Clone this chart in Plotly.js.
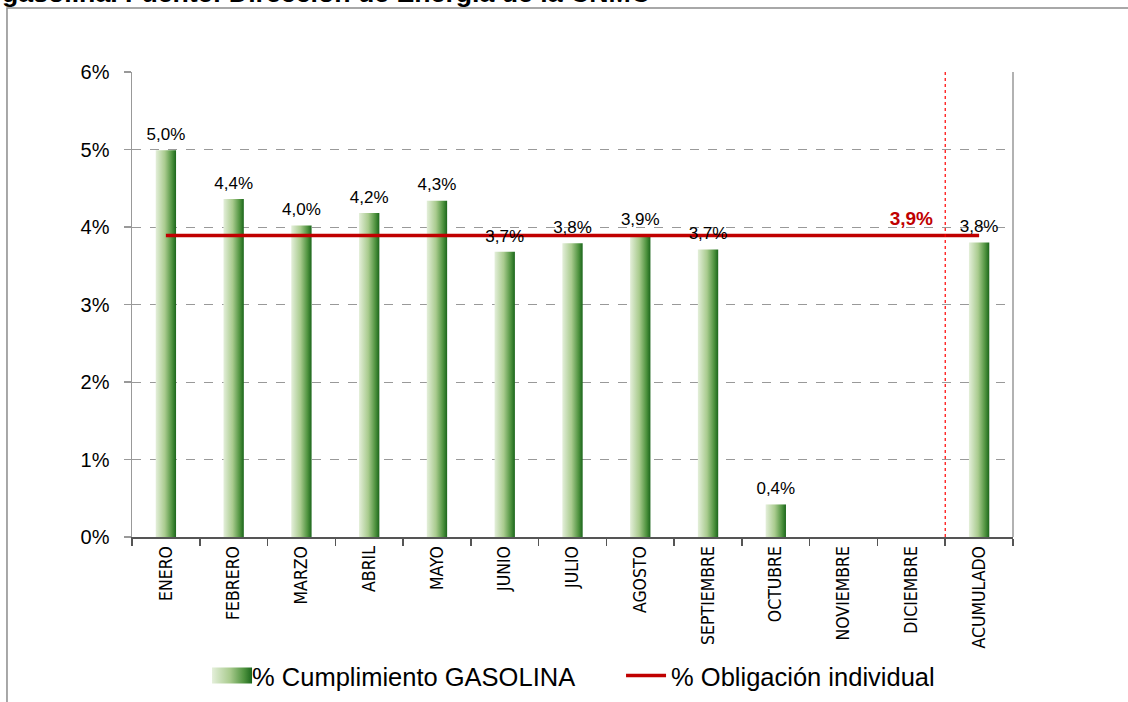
<!DOCTYPE html>
<html><head><meta charset="utf-8">
<script src="https://cdn.plot.ly/plotly-3.0.1.min.js"></script>
<style>html,body{margin:0;padding:0;background:#fff;}#chart{width:1128px;height:702px;}</style>
</head><body><div id="chart"></div>
<script>
const months = ['ENERO','FEBRERO','MARZO','ABRIL','MAYO','JUNIO','JULIO','AGOSTO','SEPTIEMBRE','OCTUBRE','NOVIEMBRE','DICIEMBRE','ACUMULADO'];
const cumplimiento = [4.99,4.36,4.02,4.18,4.34,3.68,3.79,3.90,3.71,0.42,null,null,3.80];
const obligacion = [3.89,3.89,3.89,3.89,3.89,3.89,3.89,3.89,3.89,3.89,3.89,3.89,3.89];
const yTickVals = [0,1,2,3,4,5,6];
const yTickText = ['0%','1%','2%','3%','4%','5%','6%'];
const seriesNames = ['% Cumplimiento GASOLINA','% Obligación individual'];
const titleText = 'gasolina. Fuente: Dirección de Energía de la CNMC';
const obligLabelIndex = 11;

const traces = [
  {type:'bar', x:months, y:cumplimiento, name:seriesNames[0], width:0.3,
   marker:{color:'#7fae5f', line:{width:0}}, hoverinfo:'skip'},
  {type:'scatter', mode:'lines', x:months, y:obligacion, name:seriesNames[1],
   line:{color:'#c00000', width:3.5}, hoverinfo:'skip'},
  {type:'scatter', mode:'markers+text', x:months, y:cumplimiento, showlegend:false,
   marker:{size:8, opacity:0}, texttemplate:'%{y:.1f}%', textposition:'top center',
   textfont:{size:17, color:'#000', family:'Liberation Sans, Arial, sans-serif'}, cliponaxis:false, hoverinfo:'skip'},
  {type:'scatter', mode:'markers+text', x:[months[obligLabelIndex]], y:[obligacion[obligLabelIndex]], showlegend:false,
   marker:{size:8, opacity:0}, texttemplate:'<b>%{y:.1f}%</b>', textposition:'top center',
   textfont:{size:19, color:'#c00000', family:'Liberation Sans, Arial, sans-serif'}, cliponaxis:false, hoverinfo:'skip'}
];

const layout = {
  width:1128, height:702,
  margin:{l:132, r:115, t:72, b:165, pad:0},
  paper_bgcolor:'#fff', plot_bgcolor:'#fff',
  separators:',.',
  font:{family:'Liberation Sans, Arial, sans-serif', color:'#000'},
  showlegend:true,
  xaxis:{type:'category', range:[-0.5,12.5], tickson:'boundaries', ticks:'outside', ticklen:7,
    tickcolor:'#555', tickwidth:1.5, showline:true, linecolor:'#555', linewidth:2,
    tickangle:-90, tickfont:{family:'DejaVu Sans Condensed, sans-serif', size:17.5, color:'#000'},
    showgrid:false, zeroline:false, fixedrange:true, automargin:false},
  yaxis:{range:[0,6], tickvals:yTickVals, ticktext:yTickText, ticks:'outside', ticklen:7,
    tickcolor:'#999', tickwidth:1.5, showline:true, linecolor:'#999', linewidth:1.5,
    showgrid:true, gridcolor:'#999', griddash:'dash', gridwidth:1, zeroline:false,
    tickfont:{size:20, color:'#000'}, ticklabelstandoff:10, fixedrange:true, automargin:false},
  legend:{orientation:'h', xref:'paper', x:0.0795, xanchor:'left', yref:'container', y:0.037, yanchor:'middle',
    font:{size:25.5, color:'#000'}, bgcolor:'rgba(0,0,0,0)', itemwidth:40, traceorder:'normal',
    entrywidth:364, entrywidthmode:'pixels'},
  shapes:[
    {type:'line', xref:'x', yref:'paper', x0:11.5, x1:11.5, y0:0, y1:1, line:{color:'#ff0000', width:1.2, dash:'dot'}},
    {type:'line', xref:'paper', yref:'paper', x0:1, x1:1, y0:0, y1:1, line:{color:'#999', width:1.5}},
    {type:'rect', xref:'paper', yref:'paper', x0:-0.1419, x1:1.3, y0:-0.5, y1:1.1376, line:{color:'#8c8c8c', width:1.5}, fillcolor:'rgba(0,0,0,0)', layer:'below'}
  ],
  annotations:[
    {text:'<b>'+titleText+'</b>', xref:'paper', yref:'paper', x:-0.1498, y:1.1344, xanchor:'left', yanchor:'bottom',
     showarrow:false, font:{size:26.7, color:'#000'}}
  ]
};

Plotly.newPlot('chart', traces, layout, {staticPlot:true}).then(function(gd){
  const svgNS = 'http://www.w3.org/2000/svg';
  const defs = gd.querySelector('svg.main-svg defs');
  const grad = document.createElementNS(svgNS, 'linearGradient');
  grad.setAttribute('id','barGrad');
  grad.setAttribute('x1','0'); grad.setAttribute('y1','0'); grad.setAttribute('x2','1'); grad.setAttribute('y2','0');
  [['0','#e4efda'],['0.45','#a9cb8e'],['0.8','#4f933f'],['1','#1b661b']].forEach(function(s){
    const st = document.createElementNS(svgNS,'stop');
    st.setAttribute('offset', s[0]); st.setAttribute('stop-color', s[1]);
    grad.appendChild(st);
  });
  defs.appendChild(grad);
  gd.querySelectorAll('.barlayer .point path').forEach(function(p){ p.style.fill = 'url(#barGrad)'; });
  const legendTraces = gd.querySelectorAll('.legend .traces');
  if (legendTraces.length) {
    legendTraces[0].querySelectorAll('.legendpoints path').forEach(function(p){
      p.setAttribute('d','M-15,-8H25V8H-15Z');
      p.style.fill = 'url(#barGrad)';
      p.style.stroke = 'none';
    });
  }
});
</script>
</body></html>
